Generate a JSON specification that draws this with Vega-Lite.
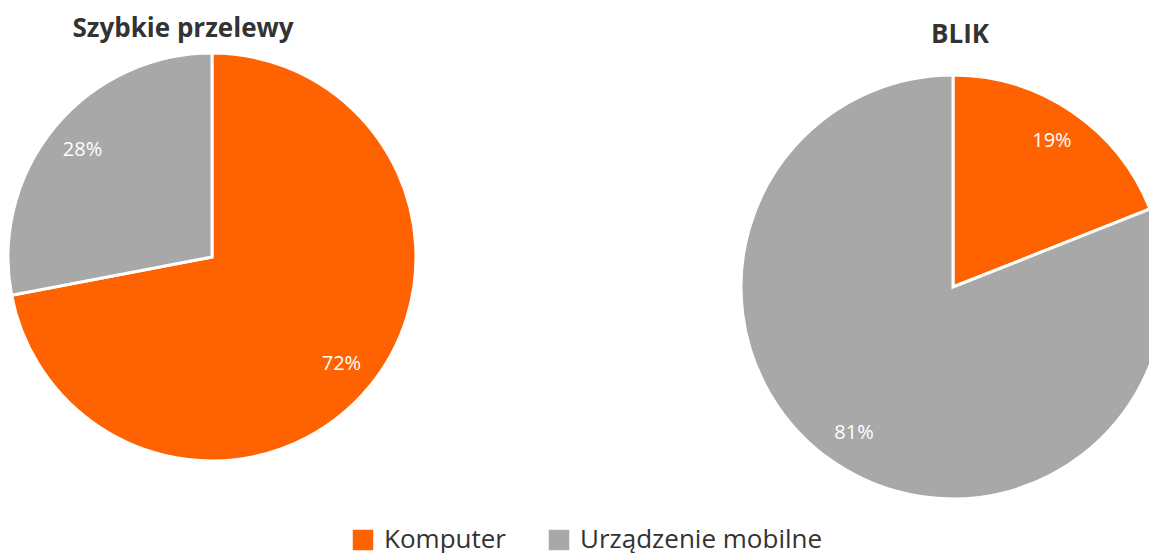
{
  "$schema": "https://vega.github.io/schema/vega-lite/v6.json",
  "padding": {"left": 2, "top": 16, "right": 0, "bottom": 0},
  "autosize": {"type": "pad"},
  "background": "white",
  "data": {
    "values": [
      {"chart": "Szybkie przelewy", "category": "Komputer", "value": 72, "label": "72%"},
      {"chart": "Szybkie przelewy", "category": "Urządzenie mobilne", "value": 28, "label": "28%"},
      {"chart": "BLIK", "category": "Komputer", "value": 19, "label": "19%"},
      {"chart": "BLIK", "category": "Urządzenie mobilne", "value": 81, "label": "81%"}
    ]
  },
  "spacing": 313,
  "hconcat": [
    {
      "title": {"text": "Szybkie przelewy", "dx": -29},
      "width": 408,
      "height": 408,
      "transform": [{"filter": "datum.chart === 'Szybkie przelewy'"}],
      "encoding": {
        "theta": {"field": "value", "type": "quantitative", "stack": true},
        "order": {"field": "category", "type": "ordinal"}
      },
      "layer": [
        {
          "mark": {"type": "arc", "stroke": "white", "strokeWidth": 3},
          "encoding": {
            "color": {
              "field": "category", "type": "nominal",
              "scale": {"domain": ["Komputer", "Urządzenie mobilne"], "range": ["#FF6200", "#A8A8A8"]},
              "legend": {
                "orient": "bottom", "title": null, "direction": "horizontal",
                "symbolType": "square", "symbolSize": 420, "symbolStrokeWidth": 0,
                "labelFontSize": 26, "labelFont": "Open Sans", "labelColor": "#333333",
                "labelLimit": 500,
                "columnPadding": 40, "labelOffset": 8, "offset": 6
              }
            }
          }
        },
        {
          "mark": {"type": "text", "radius": 168, "color": "white", "fontSize": 20, "font": "Open Sans"},
          "encoding": {
            "detail": {"field": "category", "type": "nominal"},
            "text": {"field": "label", "type": "nominal"}
          }
        }
      ]
    },
    {
      "title": {"text": "BLIK", "dx": 7},
      "width": 424,
      "height": 468,
      "transform": [{"filter": "datum.chart === 'BLIK'"}],
      "encoding": {
        "theta": {"field": "value", "type": "quantitative", "stack": true},
        "order": {"field": "category", "type": "ordinal"}
      },
      "layer": [
        {
          "mark": {"type": "arc", "stroke": "white", "strokeWidth": 3},
          "encoding": {
            "color": {"field": "category", "type": "nominal"}
          }
        },
        {
          "mark": {"type": "text", "radius": 176, "color": "white", "fontSize": 20, "font": "Open Sans"},
          "encoding": {
            "detail": {"field": "category", "type": "nominal"},
            "text": {"field": "label", "type": "nominal"}
          }
        }
      ]
    }
  ],
  "config": {
    "view": {"stroke": null},
    "title": {"fontSize": 26, "fontWeight": "bold", "font": "Open Sans", "color": "#333333", "offset": 5, "anchor": "middle"},
    "legend": {"layout": {"bottom": {"anchor": "middle"}}}
  }
}
